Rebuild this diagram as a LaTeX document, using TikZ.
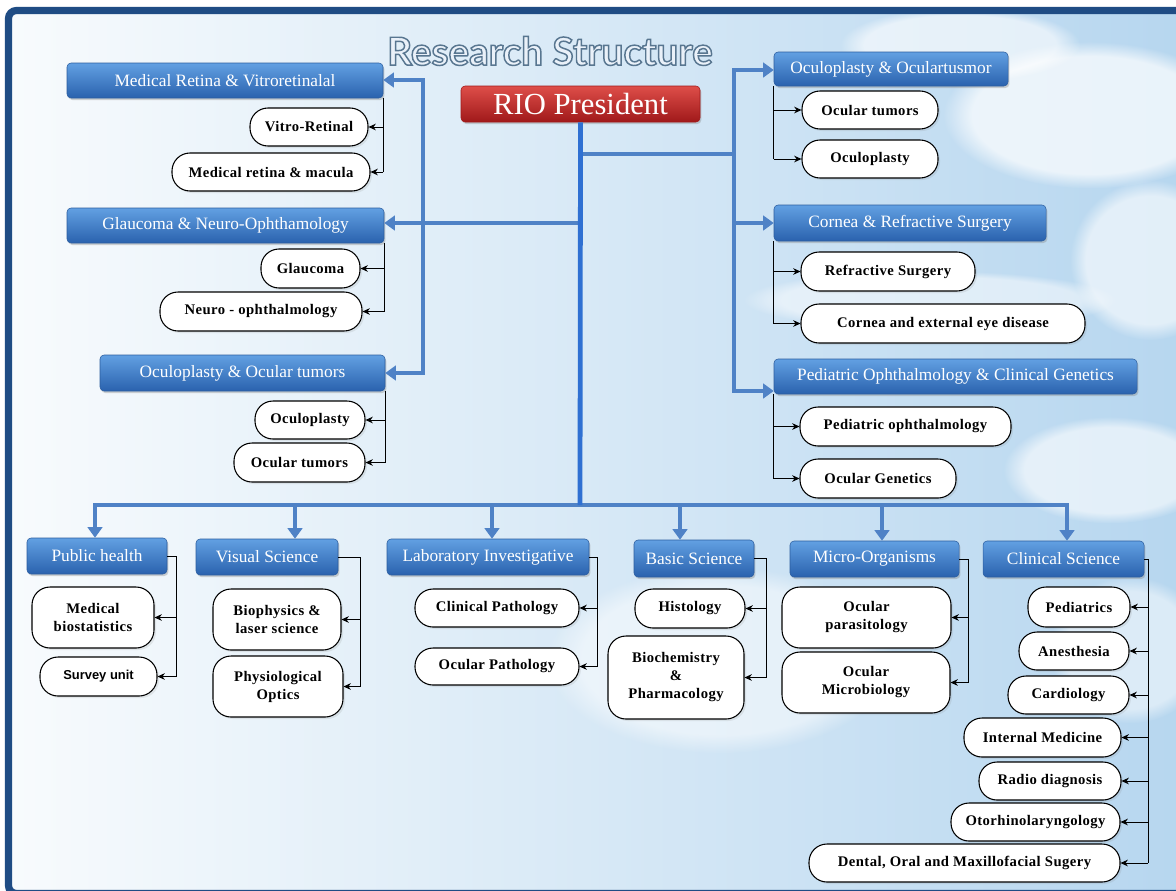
\documentclass[tikz,border=0pt]{standalone}
\usepackage{fontspec}
\setmainfont{Liberation Serif}
\newfontfamily\titlefont{Lato}
\newfontfamily\leaffont{Liberation Serif}[LetterSpace=3.0]
\newfontfamily\surveyfont{Liberation Sans}
\usetikzlibrary{arrows.meta,shadows,fadings}

\definecolor{frameblue}{HTML}{1F4C84}
\definecolor{busblue}{HTML}{4F82C6}
\definecolor{trunkblue}{HTML}{2F70D2}
\definecolor{hdrtop}{HTML}{62A0E2}
\definecolor{hdrbot}{HTML}{2A62AE}
\definecolor{hdredge}{HTML}{2C5D9E}
\definecolor{riotop}{HTML}{DE4E49}
\definecolor{riobot}{HTML}{A0191A}
\definecolor{skyleft}{HTML}{F8FBFD}
\definecolor{skymid}{HTML}{E6F0F8}
\definecolor{skyright}{HTML}{B6D6EF}
\definecolor{titlefill}{HTML}{EAF1F9}

% hollow lettering: fill in the current colour, stroke in slate blue
\newcommand\hollow[1]{%
  \special{pdf:literal direct 2 Tr 1.1 w 0.345 0.463 0.565 RG}#1%
  \special{pdf:literal direct 0 Tr}}

\tikzset{
  hdr/.style={rounded corners=3pt, top color=hdrtop, bottom color=hdrbot,
    draw=hdredge, line width=0.4pt, text=white, inner sep=1pt,
    font=\fontsize{13}{15}\selectfont,
    drop shadow={opacity=0.35, shadow xshift=1pt, shadow yshift=-1.5pt}},
  riobox/.style={rounded corners=3pt, top color=riotop, bottom color=riobot,
    draw=riobot, line width=0.4pt, text=white, inner sep=1pt,
    font=\fontsize{23}{26}\selectfont,
    drop shadow={opacity=0.35, shadow xshift=1pt, shadow yshift=-1.5pt}},
  leaf/.style={draw=black, line width=0.8pt, fill=white, rounded corners=13.5pt,
    align=center, inner sep=1pt,
    font=\leaffont\bfseries\fontsize{11}{13.5}\selectfont,
    drop shadow={opacity=0.15, shadow xshift=1.5pt, shadow yshift=-1.5pt}},
  titletext/.style={font=\titlefont\bfseries\fontsize{29}{33}\selectfont, inner sep=0pt},
  bus/.style={busblue, line width=3.6pt, line cap=rect},
  trunk/.style={trunkblue, line width=3.6pt},
  busarrow/.style={bus, -{Triangle[width=11pt,length=8pt]}},
  tick/.style={black, line width=0.7pt},
  tickarrow/.style={tick, -{Stealth[length=5.5pt,width=5pt]}},
  cloud/.style={white, path fading=circle with fuzzy edge 20 percent},
}

% box from (x1,y1) to (x2,y2) in pixel units
\newcommand\bx[7]{%
  \pgfmathsetlengthmacro\bxw{(#5-#3)*0.75pt}%
  \pgfmathsetlengthmacro\bxh{(#6-#4)*0.75pt}%
  \node[#2, minimum width=\bxw, minimum height=\bxh] (#1)
    at ({(#3+#5)/2},{(#4+#6)/2}) {#7};}

\begin{document}
\begin{tikzpicture}[x=0.75pt, y=-0.75pt]
\useasboundingbox (0,0) rectangle (1176,890);
\clip (0,0) rectangle (1176,890);
\fill[white] (0,0) rectangle (1176,890);

% sky backdrop
\shade[left color=skyleft, middle color=skymid, right color=skyright] (8,10) rectangle (1190,895);
\fill[cloud, opacity=0.7] (1090,115) ellipse (110pt and 55pt);
\fill[cloud, opacity=0.6] (960,45) ellipse (90pt and 28pt);
\fill[cloud, opacity=0.6] (1150,260) ellipse (60pt and 60pt);
\fill[cloud, opacity=0.5] (930,300) ellipse (140pt and 22pt);
\fill[cloud, opacity=0.6] (1110,470) ellipse (80pt and 40pt);
\fill[cloud, opacity=0.5] (1130,650) ellipse (60pt and 55pt);
\fill[cloud, opacity=0.5] (720,660) ellipse (130pt and 70pt);

% outer frame
\draw[frameblue, line width=5.4pt, rounded corners=6pt] (8.5,10.5) rectangle (1195,893.5);

% heading
\node[titletext, text=titlefill] (title) at (550,51) {\hollow{Research Structure}};

\bx{rio}{riobox}{461}{86}{700}{122}{RIO President}

% left groups
\bx{mr}{hdr}{67}{63}{383}{98}{Medical Retina \& Vitroretinalal}
\bx{vr}{leaf}{250}{108}{368}{146}{Vitro-Retinal}
\bx{mm}{leaf}{172}{153}{370}{191}{Medical retina \& macula}

\bx{gn}{hdr}{67}{208}{384}{243}{Glaucoma \& Neuro-Ophthamology}
\bx{gl}{leaf}{261}{249}{360}{288}{Glaucoma}
\bx{no}{leaf}{160}{292}{362}{331}{Neuro - ophthalmology}

\bx{ot}{hdr}{100}{355}{385}{391}{Oculoplasty \& Ocular tumors}
\bx{opl}{leaf}{255}{401}{365}{439}{Oculoplasty}
\bx{otl}{leaf}{234}{443}{365}{482}{Ocular tumors}

% right groups
\bx{ou}{hdr}{774}{52}{1008}{86}{Oculoplasty \& Oculartusmor}
\bx{otr}{leaf}{802}{91}{938}{129}{Ocular tumors}
\bx{opr}{leaf}{802}{140}{938}{178}{Oculoplasty}

\bx{cr}{hdr}{774}{205}{1046}{241}{Cornea \& Refractive Surgery}
\bx{rs}{leaf}{801}{252}{975}{291}{Refractive Surgery}
\bx{ce}{leaf}{801}{304}{1085}{343}{Cornea and external eye disease}

\bx{pd}{hdr}{774}{359}{1137}{394}{Pediatric Ophthalmology \& Clinical Genetics}
\bx{po}{leaf}{800}{407}{1011}{446}{Pediatric ophthalmology}
\bx{og}{leaf}{800}{459}{956}{498}{Ocular Genetics}

% bottom row
\bx{ph}{hdr}{27}{538}{167}{574}{Public health}
\bx{mb}{leaf}{32}{587}{154}{648}{Medical\\biostatistics}
\bx{su}{leaf, font=\surveyfont\bfseries\fontsize{9.7}{12}\selectfont}{40}{657}{157}{696}{Survey unit}

\bx{vs}{hdr}{196}{539}{338}{575}{Visual Science}
\bx{bl}{leaf}{213}{589}{341}{650}{Biophysics \&\\laser science}
\bx{pho}{leaf}{213}{656}{343}{717}{Physiological\\Optics}

\bx{li}{hdr}{387}{539}{589}{575}{Laboratory Investigative}
\bx{cp}{leaf}{415}{589}{579}{627}{Clinical Pathology}
\bx{opa}{leaf}{415}{648}{579}{685}{Ocular Pathology}

\bx{bs}{hdr}{634}{540}{754}{577}{Basic Science}
\bx{hi}{leaf}{635}{589}{745}{628}{Histology}
\bx{bp}{leaf}{608}{636}{744}{719}{Biochemistry\\\&\\Pharmacology}

\bx{mo}{hdr}{790}{541}{959}{577}{Micro-Organisms}
\bx{opar}{leaf}{782}{587}{951}{648}{Ocular\\parasitology}
\bx{omb}{leaf}{782}{652}{950}{713}{Ocular\\Microbiology}

\bx{cs}{hdr}{983}{541}{1144}{577}{Clinical Science}
\bx{ped}{leaf}{1028}{587}{1130}{627}{Pediatrics}
\bx{ane}{leaf}{1019}{632}{1129}{670}{Anesthesia}
\bx{car}{leaf}{1008}{676}{1129}{714}{Cardiology}
\bx{im}{leaf}{964}{718}{1121}{757}{Internal Medicine}
\bx{rd}{leaf}{979}{762}{1121}{800}{Radio diagnosis}
\bx{orl}{leaf}{951}{803}{1120}{841}{Otorhinolaryngology}
\bx{den}{leaf}{809}{844}{1120}{882}{Dental, Oral and Maxillofacial Sugery}

% blue connectors
\coordinate (busC) at (580,505);
\coordinate (jL) at (580,223);
\coordinate (jR0) at (580,154);
\coordinate (jR) at (734,154);
\coordinate (vR1) at (734,70);
\coordinate (vR2) at (734,223);
\coordinate (vR3) at (734,391);
\coordinate (vL1) at (423,80);
\coordinate (vL2) at (423,373);
\coordinate (busL) at (95,505);
\coordinate (busR) at (1067,505);
\coordinate (d2) at (295,505);
\coordinate (d3) at (492,505);
\coordinate (d4) at (680,505);
\coordinate (d5) at (882,505);

\draw[bus] (jR0) -- (jR);
\draw[bus] (vR1) -- (vR3);
\draw[busarrow] (vR1) -- (ou.west |- vR1);
\draw[busarrow] (vR2) -- (cr.west |- vR2);
\draw[busarrow] (vR3) -- (pd.west |- vR3);
\draw[busarrow] (jL) -- (gn.east |- jL);
\draw[bus] (vL1) -- (vL2);
\draw[busarrow] (vL1) -- (mr.east |- vL1);
\draw[busarrow] (vL2) -- (ot.east |- vL2);
\draw[bus] (busL) -- (busR);
\foreach \c/\h in {busL/ph, d2/vs, d3/li, d4/bs, d5/mo, busR/cs}
  \draw[busarrow] (\c) -- (\c |- \h.north);
\draw[trunk] (rio.south) -- (busC);

% thin brackets, left groups
\foreach \h/\a/\b in {mr/vr/mm, gn/gl/no, ot/opl/otl} {
  \draw[tick] (\h.south east) -- (\h.south east |- \b.east);
  \draw[tickarrow] (\h.south east |- \a.east) -- (\a.east);
  \draw[tickarrow] (\h.south east |- \b.east) -- (\b.east);
}
% thin brackets, right groups
\foreach \h/\a/\b in {ou/otr/opr, cr/rs/ce, pd/po/og} {
  \draw[tick] (\h.south west) -- (\h.south west |- \b.west);
  \draw[tickarrow] (\h.south west |- \a.west) -- (\a.west);
  \draw[tickarrow] (\h.south west |- \b.west) -- (\b.west);
}
% thin brackets, bottom row
\coordinate (phX) at (176,0);
\coordinate (vsX) at (360,0);
\coordinate (liX) at (597,0);
\coordinate (bsX) at (766,0);
\coordinate (moX) at (968,0);
\coordinate (csX) at (1148,0);
\foreach \h/\a/\b in {ph/mb/su, vs/bl/pho, li/cp/opa, bs/hi/bp, mo/opar/omb} {
  \draw[tick] (\h.east) -- (\h.east -| \h X) -- (\h X |- \b.east);
  \draw[tickarrow] (\h X |- \a.east) -- (\a.east);
  \draw[tickarrow] (\h X |- \b.east) -- (\b.east);
}
\draw[tick] (cs.east) -- (cs.east -| csX) -- (csX |- den.east);
\foreach \l in {ped, ane, car, im, rd, orl, den}
  \draw[tickarrow] (csX |- \l.east) -- (\l.east);
\end{tikzpicture}
\end{document}
